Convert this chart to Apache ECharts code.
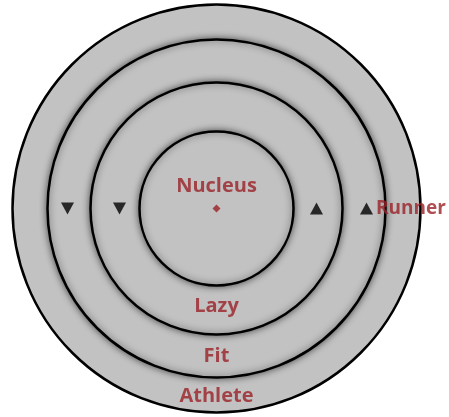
<!DOCTYPE html>
<html>
<head>
<meta charset="utf-8">
<script src="https://cdn.jsdelivr.net/npm/echarts@6/dist/echarts.min.js"></script>
<style>
html,body{margin:0;padding:0;background:#fff;}
#chart{width:449px;height:417px;}
</style>
</head>
<body>
<div id="chart"></div>
<script>
// Rings, drawn from outermost to innermost
const ringNames = ['Athlete', 'Fit', 'Lazy', 'Nucleus'];
const ringRadii = [204, 169, 126, 77];

// Ring labels: [radius, angle in degrees]
const labelNames = ['Nucleus', 'Lazy', 'Fit', 'Athlete'];
const labelPoints = [[22, 90], [98, 270], [148, 270], [188, 270]];

// Markers: [radius, angle]
const downMarkers = [[149, 180], [97, 180]];
const upMarkers = [[100, 0], [150, 0]];
const runnerLabel = 'Runner';
const centerPoint = [[0, 0]];

const RED = '#9a2228';
const FONT = '"Open Sans", sans-serif';

const chart = echarts.init(document.getElementById('chart'), null, {renderer: 'canvas'});

const hiddenAxis = {
  axisLine: {show: false}, axisTick: {show: false},
  axisLabel: {show: false}, splitLine: {show: false}, splitArea: {show: false}
};

const ringSeries = ringNames.map((name, i) => ({
  type: 'bar',
  name: name,
  coordinateSystem: 'polar',
  polarIndex: 0,
  data: [ringRadii[i]],
  barGap: '-100%',
  barCategoryGap: '0%',
  silent: true,
  itemStyle: {
    color: '#c2c2c2',
    borderColor: '#000',
    borderWidth: 2.5,
    shadowBlur: i === 0 ? 0 : 7,
    shadowColor: 'rgba(0,0,0,0.55)'
  }
}));

chart.setOption({
  animation: false,
  backgroundColor: '#fff',
  polar: [
    {center: [216.5, 208.5], radius: 204},
    {center: [216.5, 208.5], radius: 204}
  ],
  angleAxis: [
    Object.assign({polarIndex: 0, type: 'category', data: ['ring'], boundaryGap: true}, hiddenAxis),
    Object.assign({polarIndex: 1, type: 'value', min: 0, max: 360, startAngle: 0, clockwise: false}, hiddenAxis)
  ],
  radiusAxis: [
    Object.assign({polarIndex: 0, type: 'value', min: 0, max: 204}, hiddenAxis),
    Object.assign({polarIndex: 1, type: 'value', min: 0, max: 204}, hiddenAxis)
  ],
  series: ringSeries.concat([
    {
      type: 'scatter', coordinateSystem: 'polar', polarIndex: 1, silent: true,
      symbol: 'triangle', symbolSize: [13, 12], symbolRotate: 180,
      itemStyle: {color: '#000'},
      data: downMarkers
    },
    {
      type: 'scatter', coordinateSystem: 'polar', polarIndex: 1, silent: true,
      symbol: 'triangle', symbolSize: [13, 12],
      itemStyle: {color: '#000'},
      data: upMarkers.map((p, i) => ({
        value: p,
        label: i === upMarkers.length - 1 ? {
          show: true, position: 'right', distance: 3,
          formatter: runnerLabel, color: RED, fontFamily: FONT,
          fontWeight: 'bold', fontSize: 19
        } : {show: false}
      }))
    },
    {
      type: 'scatter', coordinateSystem: 'polar', polarIndex: 1, silent: true,
      symbol: 'diamond', symbolSize: 8,
      itemStyle: {color: RED},
      data: centerPoint
    },
    {
      type: 'scatter', coordinateSystem: 'polar', polarIndex: 1, silent: true,
      symbolSize: 0,
      data: labelNames.map((n, i) => ({name: n, value: labelPoints[i]})),
      label: {
        show: true, position: 'inside', formatter: '{b}',
        color: RED, fontFamily: FONT, fontWeight: 'bold', fontSize: 20
      }
    }
  ])
});
</script>
</body>
</html>
